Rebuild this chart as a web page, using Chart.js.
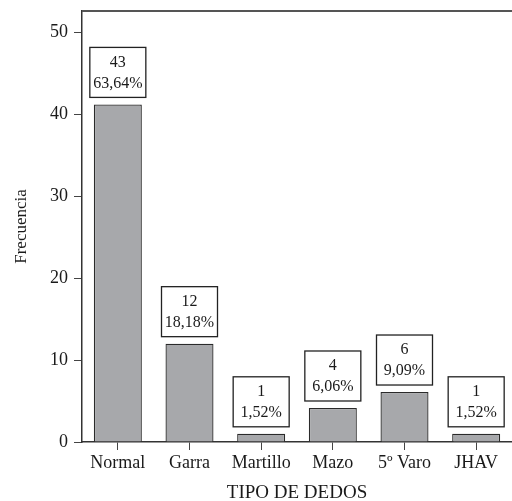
<!DOCTYPE html>
<html>
<head>
<meta charset="utf-8">
<script src="https://cdn.jsdelivr.net/npm/chart.js@4"></script>
<style>
  html, body { margin: 0; padding: 0; background: #fff; }
  #wrap { width: 512px; height: 501px; }
</style>
</head>
<body>
<div id="wrap"><canvas id="chart"></canvas></div>
<script>
// data
const categories = ['Normal', 'Garra', 'Martillo', 'Mazo', '5º Varo', 'JHAV'];
const barHeights = [41.2, 12, 1, 4.15, 6.1, 1];
const countLabels = ['43', '12', '1', '4', '6', '1'];
const percentLabels = ['63,64%', '18,18%', '1,52%', '6,06%', '9,09%', '1,52%'];
const yTicks = [0, 10, 20, 30, 40, 50];

const serif = '"Liberation Serif", "DejaVu Serif", serif';

// boxes with count + percent above each bar, plus top frame line
const boxLabels = {
  id: 'boxLabels',
  afterDatasetsDraw(chart) {
    const ctx = chart.ctx;
    const meta = chart.getDatasetMeta(0);
    const area = chart.chartArea;
    ctx.save();
    ctx.strokeStyle = '#555';
    ctx.lineWidth = 2;
    ctx.beginPath();
    ctx.moveTo(area.left, area.top);
    ctx.lineTo(area.right, area.top);
    ctx.stroke();

    ctx.font = '16px ' + serif;
    ctx.textAlign = 'center';
    ctx.textBaseline = 'middle';
    meta.data.forEach((bar, i) => {
      const w = 56, h = 50;
      const x = bar.x - w / 2;
      const y = bar.y - 7 - h;
      ctx.fillStyle = '#fff';
      ctx.fillRect(x, y, w, h);
      ctx.strokeStyle = '#222';
      ctx.lineWidth = 1.3;
      ctx.strokeRect(x, y, w, h);
      ctx.fillStyle = '#1a1a1a';
      ctx.fillText(countLabels[i], bar.x, y + 15);
      ctx.fillText(percentLabels[i], bar.x, y + 36);
    });
    ctx.restore();
  }
};

new Chart(document.getElementById('chart'), {
  type: 'bar',
  data: {
    labels: categories,
    datasets: [{
      data: barHeights,
      backgroundColor: '#a7a8ab',
      borderColor: '#2a2a2a',
      borderWidth: 1.3,
      categoryPercentage: 0.67,
      barPercentage: 1
    }]
  },
  options: {
    responsive: true,
    maintainAspectRatio: false,
    animation: false,
    layout: { padding: { top: 11, right: 0, left: 0, bottom: 0 } },
    plugins: {
      legend: { display: false },
      tooltip: { enabled: false }
    },
    scales: {
      x: {
        offset: true,
        afterFit(scale) { scale.height = 59; },
        grid: {
          display: true,
          drawOnChartArea: false,
          drawTicks: true,
          tickLength: 8,
          tickColor: '#444',
          offset: false
        },
        border: { display: true, color: '#333', width: 1.5 },
        ticks: {
          color: '#1a1a1a',
          padding: 2,
          font: { family: serif, size: 18 }
        },
        title: {
          display: true,
          text: 'TIPO DE DEDOS',
          color: '#1a1a1a',
          font: { family: serif, size: 19, lineHeight: 0.8 },
          padding: { top: 2, bottom: 0 }
        }
      },
      y: {
        min: 0,
        max: 52.6,
        afterFit(scale) {
          scale.width = 82;
          scale.paddingTop = 0;
          scale.paddingBottom = 0;
        },
        afterBuildTicks(scale) { scale.ticks = yTicks.map(v => ({ value: v })); },
        grid: {
          display: true,
          drawOnChartArea: false,
          drawTicks: true,
          tickLength: 8,
          tickColor: '#444'
        },
        border: { display: true, color: '#333', width: 1.5 },
        ticks: {
          color: '#1a1a1a',
          padding: 6,
          font: { family: serif, size: 18, lineHeight: 0.6 }
        },
        title: {
          display: true,
          text: 'Frecuencia',
          color: '#1a1a1a',
          font: { family: serif, size: 17 },
          padding: { top: 11, bottom: 0 }
        }
      }
    }
  },
  plugins: [boxLabels]
});
</script>
</body>
</html>
